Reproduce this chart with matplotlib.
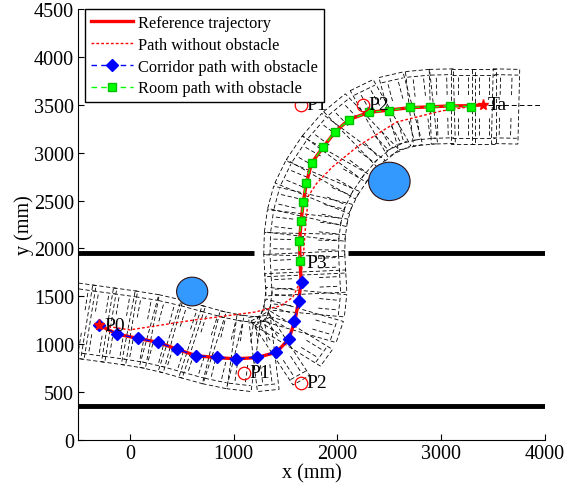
import numpy as np
import matplotlib
matplotlib.use("Agg")
import matplotlib.pyplot as plt
from matplotlib.patches import Circle, Polygon

plt.rcParams['font.family'] = ['Liberation Serif', 'DejaVu Serif']

# reference trajectory (mm)
ref_x = [-300, -120, 80, 270, 450, 640, 840, 1020, 1220, 1410, 1530, 1590, 1625, 1650,
         1640, 1635, 1650, 1670, 1700, 1750, 1860, 1980, 2110, 2300, 2500, 2700, 2890,
         3080, 3280, 3400]
ref_y = [1200, 1105, 1060, 1020, 950, 880, 860, 848, 860, 915, 1050, 1245, 1450, 1650,
         1860, 2070, 2290, 2480, 2680, 2890, 3055, 3220, 3345, 3420, 3445, 3470, 3478,
         3488, 3490, 3500]

# path without obstacle
free_x = [-300, 0, 600, 1200, 1450, 1570, 1640, 1670, 1690, 1720, 1800, 1950, 2200,
          2570, 3000, 3400]
free_y = [1200, 1150, 1250, 1335, 1400, 1490, 1650, 1900, 2200, 2550, 2680, 2850,
          3070, 3320, 3435, 3500]

# corridor path with obstacle (diamonds)
corr_x = [-300, -120, 80, 270, 450, 640, 840, 1020, 1220, 1410, 1535, 1585, 1625, 1655]
corr_y = [1200, 1105, 1060, 1020, 950, 880, 865, 845, 865, 915, 1055, 1245, 1455, 1645]

# room path with obstacle (squares)
room_x = [1635, 1630, 1650, 1670, 1695, 1750, 1860, 1975, 2115, 2300, 2500, 2700,
          2890, 3085, 3285]
room_y = [1870, 2075, 2290, 2480, 2685, 2890, 3055, 3220, 3345, 3420, 3440, 3475,
          3475, 3490, 3480]

# centre line of the dashed corridor cells
tube_x = [-600, -400, -200, 0, 200, 400, 600, 800, 1000, 1200, 1380, 1520, 1620, 1680,
          1700, 1690, 1680, 1685, 1710, 1760, 1850, 1980, 2140, 2320, 2510, 2710, 2910,
          3110, 3310, 3510, 3730]
tube_y = [1260, 1230, 1200, 1170, 1135, 1085, 1025, 965, 920, 895, 915, 1000, 1150,
          1340, 1540, 1740, 1940, 2140, 2340, 2540, 2740, 2950, 3150, 3310, 3410, 3460,
          3480, 3485, 3485, 3485, 3480]

# obstacles (x, y, r)
obs_x = [600, 2500]
obs_y = [1550, 2700]
obs_r = [150, 200]

# walls
wall_lo_y = 350
wall_hi_y = 1950
wall_hi_segs = [(-500, 1200), (2100, 4000)]

# named points
pt_names = ['P1', 'P2', 'P1', 'P2']
pt_x = [1100, 1650, 1650, 2250]
pt_y = [700, 600, 3500, 3500]

fig = plt.figure(figsize=(5.72, 4.85), dpi=100)
ax = fig.add_axes([0.1364, 0.0907, 0.8164, 0.8887])

dash = (0, (5, 3))
tx = np.array(tube_x, float)
ty = np.array(tube_y, float)
for i in range(len(tx) - 1):
    dx, dy = tx[i + 1] - tx[i], ty[i + 1] - ty[i]
    L = np.hypot(dx, dy)
    ux, uy = dx / L, dy / L
    nx, ny = -uy, ux
    cx, cy = tx[i] + dx * 0.5, ty[i] + dy * 0.5
    hl = L * 0.58
    hw = 390
    corners = [(cx - ux * hl + nx * hw, cy - uy * hl + ny * hw),
               (cx + ux * hl + nx * hw, cy + uy * hl + ny * hw),
               (cx + ux * hl - nx * hw, cy + uy * hl - ny * hw),
               (cx - ux * hl - nx * hw, cy - uy * hl - ny * hw)]
    ax.add_patch(Polygon(corners, closed=True, fill=False, ec='black',
                         lw=0.6, ls=dash, zorder=1))
    # inner cross lines of the cell
    for f in (-0.25, 0.25):
        px, py = cx + ux * L * f, cy + uy * L * f
        ax.plot([px + nx * 300, px + nx * 120], [py + ny * 300, py + ny * 120],
                color='black', lw=0.6, ls=dash, zorder=1)
        ax.plot([px - nx * 300, px - nx * 120], [py - ny * 300, py - ny * 120],
                color='black', lw=0.6, ls=dash, zorder=1)
    # second border line
    for s in (1, -1):
        ax.plot([cx - ux * hl * 0.9 + s * nx * 330, cx + ux * hl * 0.9 + s * nx * 330],
                [cy - uy * hl * 0.9 + s * ny * 330, cy + uy * hl * 0.9 + s * ny * 330],
                color='black', lw=0.6, ls=dash, zorder=1)
ax.plot([3450, 3950], [3500, 3500], color='black', lw=0.7, ls=dash, zorder=1)

# walls
ax.plot([-500, 4000], [wall_lo_y, wall_lo_y], color='black', lw=3.5, zorder=2,
        solid_capstyle='butt')
for a, b in wall_hi_segs:
    ax.plot([a, b], [wall_hi_y, wall_hi_y], color='black', lw=3.5, zorder=2,
            solid_capstyle='butt')

# obstacles
for x, y, r in zip(obs_x, obs_y, obs_r):
    ax.add_patch(Circle((x, y), r, fc='#3399ff', ec='#301010', lw=0.8, zorder=3))

ax.plot(ref_x, ref_y, color='red', lw=2.4, label='Reference trajectory', zorder=4)
ax.plot(free_x, free_y, color='red', lw=1.0, ls=(0, (2, 1.5)),
        label='Path without obstacle', zorder=4)
ax.plot(corr_x, corr_y, color='blue', lw=1.0, ls=(0, (4, 3)), marker='D', ms=6,
        mfc='blue', mec='blue', label='Corridor path with obstacle', zorder=5)
ax.plot(room_x, room_y, color='#00ff00', lw=1.0, ls=(0, (4, 3)), marker='s', ms=5.5,
        mfc='#00ff00', mec='#00c000', label='Room path with obstacle', zorder=5)

ax.plot([-300, 3400], [1200, 3500], ls='none', marker='*', ms=8, color='red', zorder=6)
ax.plot(pt_x, pt_y, ls='none', marker='o', ms=9, mfc='none', mec='red', mew=0.9, zorder=6)

ax.text(-250, 1200, 'P0', fontsize=14, va='center', zorder=7)
ax.text(3450, 3500, 'Ta', fontsize=14, va='center', zorder=7)
ax.text(1700, 1850, 'P3', fontsize=14, va='center', zorder=7)
for n, x, y in zip(pt_names, pt_x, pt_y):
    ax.text(x + 50, y, n, fontsize=14, va='center', zorder=7)

ax.set_xlim(-500, 4000)
ax.set_ylim(0, 4500)
ax.set_xticks([0, 1000, 2000, 3000, 4000])
ax.set_yticks(np.arange(0, 4501, 500))
ax.tick_params(direction='in', length=4, labelsize=14.5, width=0.8, pad=3)
ax.spines['top'].set_visible(False)
ax.spines['right'].set_visible(False)
ax.set_xlabel('x (mm)', fontsize=14.5, labelpad=0)
ax.set_ylabel('y (mm)', fontsize=14.5, labelpad=0)

leg = ax.legend(loc='upper left', bbox_to_anchor=(0.015, 1.0), fontsize=11.8,
                frameon=True, fancybox=False, edgecolor='black', framealpha=1,
                handlelength=2.6, borderpad=0.35, labelspacing=0.36, handletextpad=0.3,
                borderaxespad=0)
leg.get_frame().set_linewidth(1.0)
leg.set_zorder(10)

fig.savefig('out.png', dpi=100)
